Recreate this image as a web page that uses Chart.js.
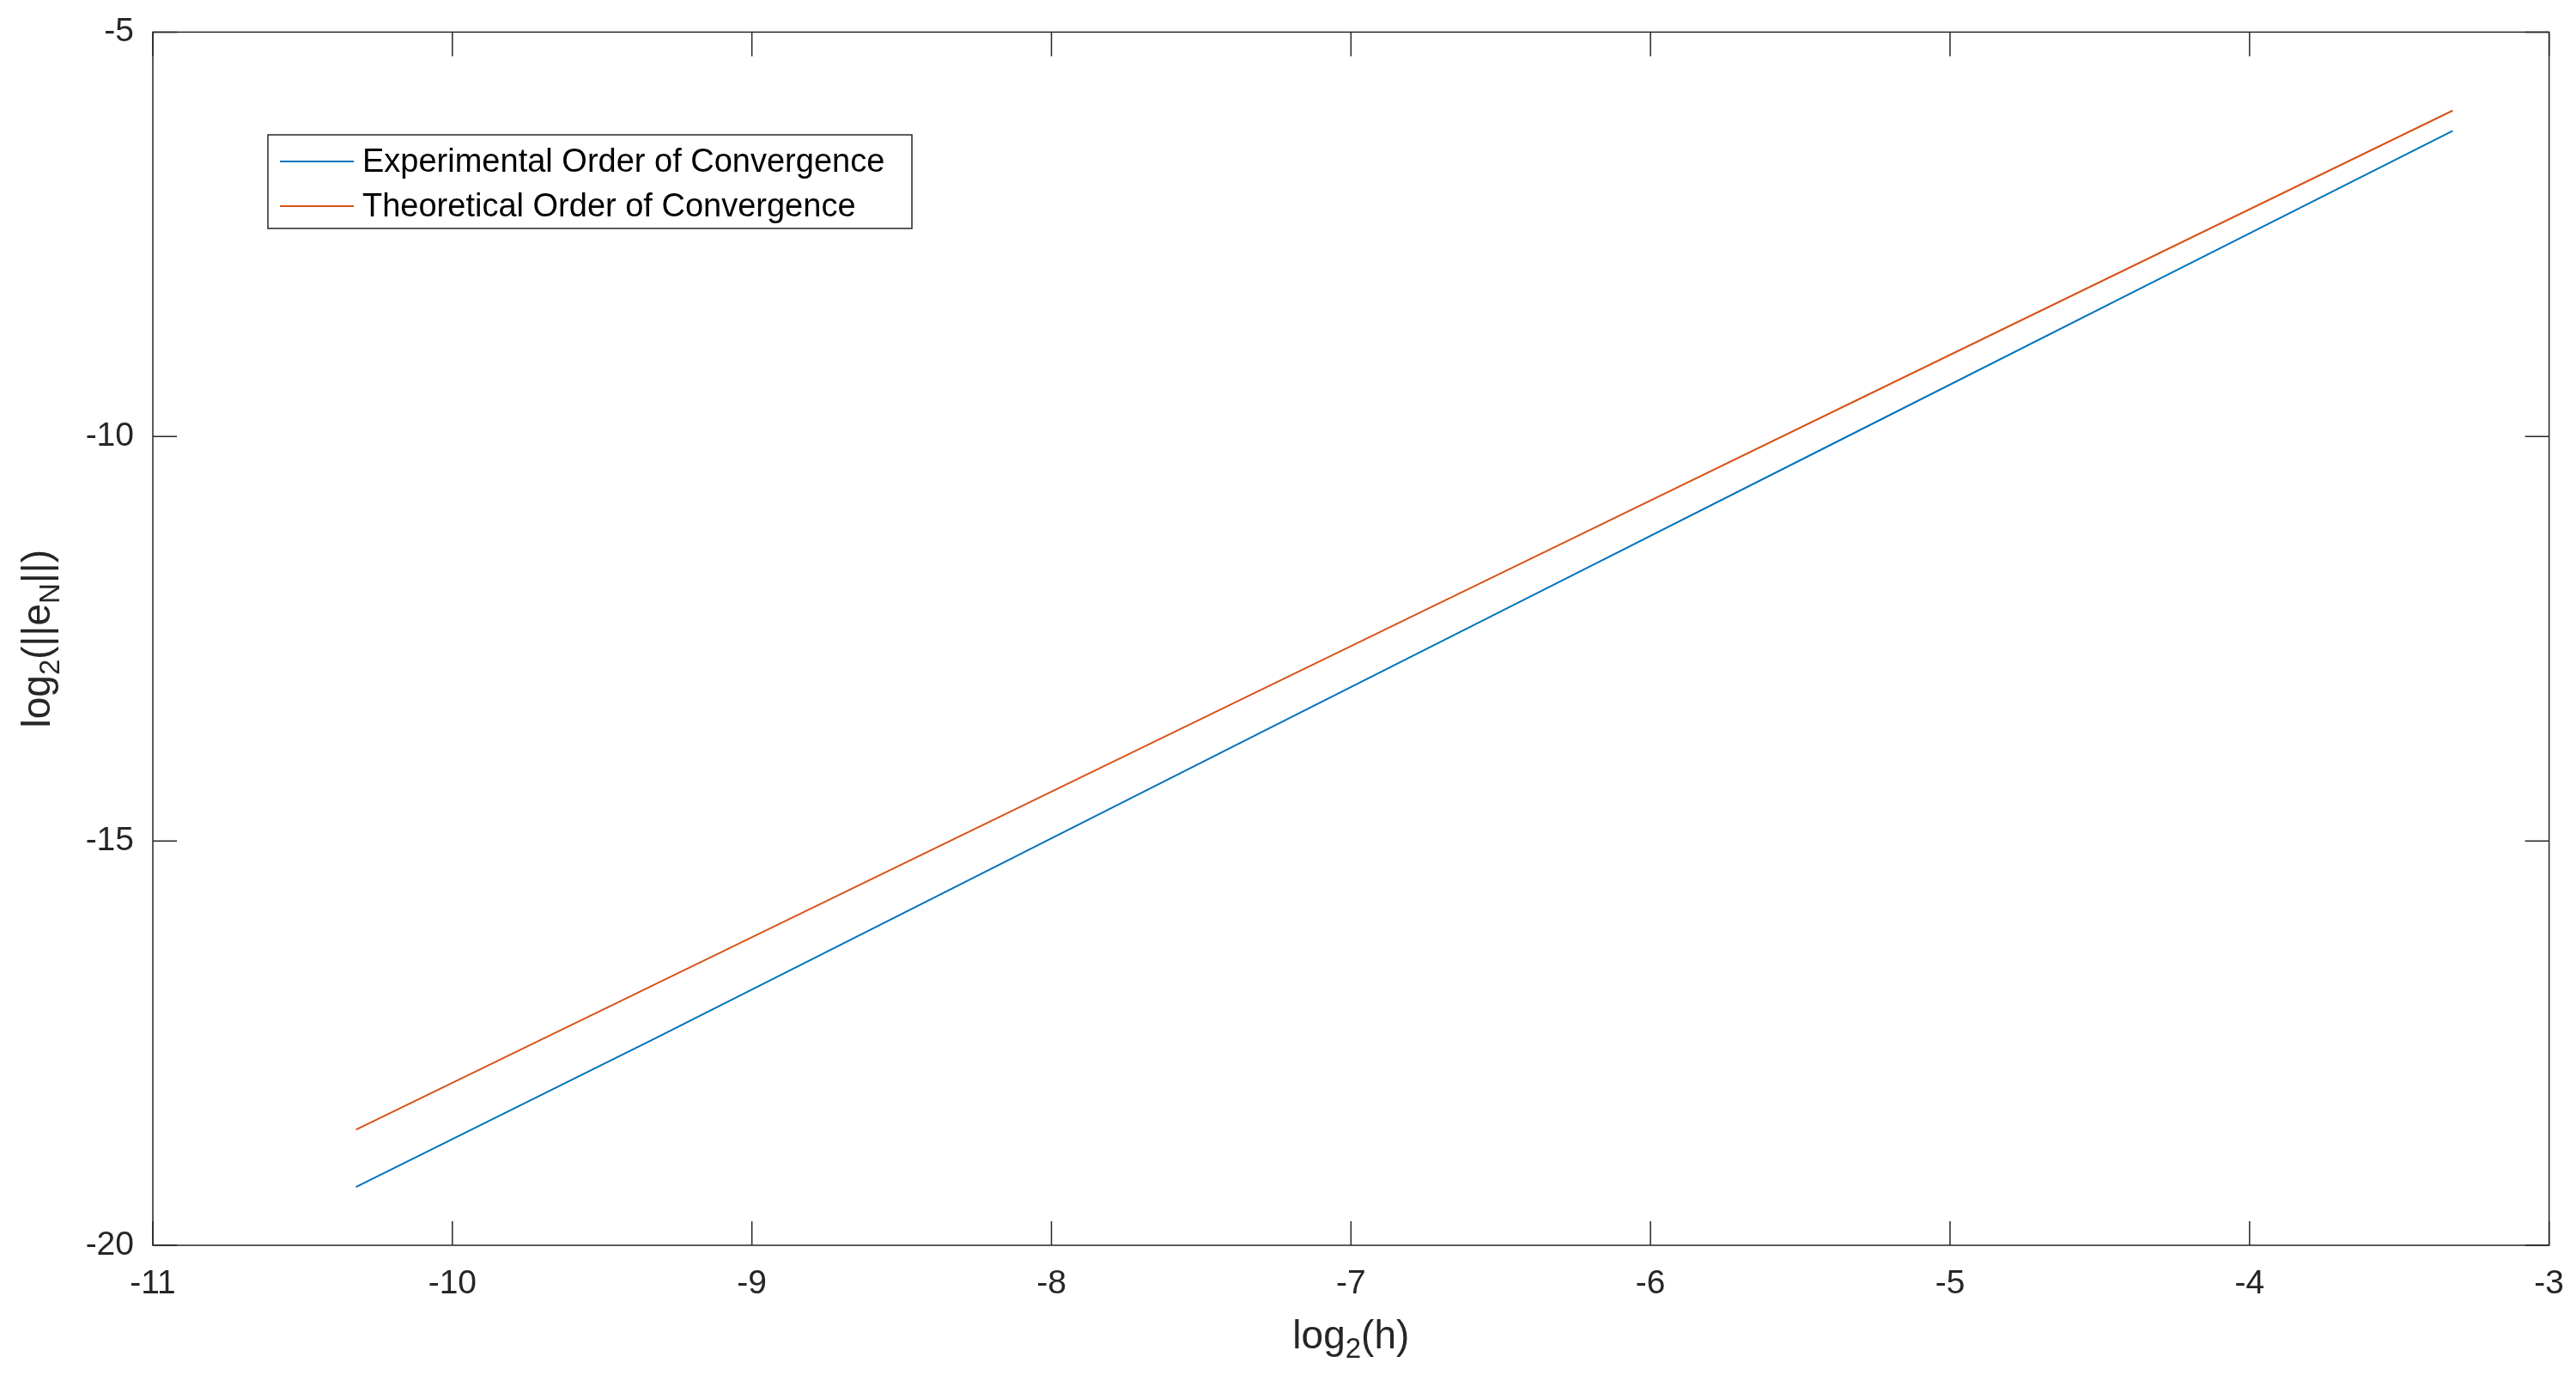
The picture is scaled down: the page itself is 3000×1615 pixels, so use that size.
<!DOCTYPE html>
<html><head><meta charset="utf-8">
<script src="https://cdn.jsdelivr.net/npm/chart.js@4"></script>
<style>html,body{margin:0;padding:0;background:#fff}#w{width:3000px;height:1615px}</style>
</head><body><div id="w"><canvas id="c"></canvas></div>
<script>
const logH = [-3.3219, -4.3219, -5.3219, -6.3219, -7.3219, -8.3219, -9.3219, -10.3219];
const experimental = [-6.22, -8.09, -9.96, -11.83, -13.70, -15.57, -17.44, -19.28];
const theoretical = [-5.97, -7.77, -9.57, -11.37, -13.17, -14.97, -16.77, -18.57];
const xTicks = [-11, -10, -9, -8, -7, -6, -5, -4, -3];
const yTicks = [-20, -15, -10, -5];
const seriesLabels = ['Experimental Order of Convergence', 'Theoretical Order of Convergence'];
const FONT = '"Liberation Sans", Arial, sans-serif';
const mk = a => logH.map((x, i) => ({x, y: a[i]}));

const deco = {
  id: 'deco',
  afterDraw(ch) {
    const {ctx, chartArea: a, scales: {x, y}} = ch;
    ctx.save();
    ctx.strokeStyle = '#262626'; ctx.lineWidth = 1.5;
    ctx.strokeRect(a.left, a.top, a.right - a.left, a.bottom - a.top);
    const t = 28;
    ctx.beginPath();
    xTicks.forEach(v => { const p = x.getPixelForValue(v);
      ctx.moveTo(p, a.bottom); ctx.lineTo(p, a.bottom - t);
      ctx.moveTo(p, a.top); ctx.lineTo(p, a.top + t); });
    yTicks.forEach(v => { const p = y.getPixelForValue(v);
      ctx.moveTo(a.left, p); ctx.lineTo(a.left + t, p);
      ctx.moveTo(a.right, p); ctx.lineTo(a.right - t, p); });
    ctx.stroke();
    ctx.fillStyle = '#262626';
    const big = '46px ' + FONT, sm = '33px ' + FONT;
    ctx.textBaseline = 'alphabetic';
    let parts = [['log', big, 0], ['2', sm, 11], ['(h)', big, 0]];
    let w = 0; parts.forEach(p => { ctx.font = p[1]; w += ctx.measureText(p[0]).width; });
    let cx = (a.left + a.right) / 2 - w / 2, by = 1570;
    parts.forEach(p => { ctx.font = p[1]; ctx.fillText(p[0], cx, by + p[2]); cx += ctx.measureText(p[0]).width; });
    ctx.save();
    ctx.translate(58, (a.top + a.bottom) / 2); ctx.rotate(-Math.PI / 2);
    parts = [['log', big, 0], ['2', sm, 11], ['(||e', big, 0], ['N', sm, 11], ['||)', big, 0]];
    w = 0; parts.forEach(p => { ctx.font = p[1]; w += ctx.measureText(p[0]).width; });
    cx = -w / 2;
    parts.forEach(p => { ctx.font = p[1]; ctx.fillText(p[0], cx, p[2]); cx += ctx.measureText(p[0]).width; });
    ctx.restore();
    const lx = 312, ly = 157, lw = 750, lh = 109;
    ctx.fillStyle = '#fff'; ctx.fillRect(lx, ly, lw, lh);
    ctx.strokeStyle = '#262626'; ctx.lineWidth = 1.5; ctx.strokeRect(lx, ly, lw, lh);
    ctx.font = '38px ' + FONT; ctx.textBaseline = 'middle';
    ch.data.datasets.forEach((d, i) => {
      const yy = ly + 31 + i * 52;
      ctx.strokeStyle = d.borderColor; ctx.lineWidth = 2;
      ctx.beginPath(); ctx.moveTo(lx + 14, yy); ctx.lineTo(lx + 100, yy); ctx.stroke();
      ctx.fillStyle = '#000'; ctx.fillText(d.label, lx + 110, yy + 2);
    });
    ctx.restore();
  }
};

new Chart(document.getElementById('c'), {
  type: 'line',
  data: { datasets: [
    {label: seriesLabels[0], data: mk(experimental), borderColor: '#0072BD', borderWidth: 2, pointRadius: 0, fill: false},
    {label: seriesLabels[1], data: mk(theoretical), borderColor: '#D95319', borderWidth: 2, pointRadius: 0, fill: false}
  ]},
  options: {
    responsive: true, maintainAspectRatio: false, animation: false,
    layout: {padding: {top: 34, right: 31, left: 0, bottom: 0}},
    plugins: {legend: {display: false}, tooltip: {enabled: false}},
    scales: {
      x: {type: 'linear', min: -11, max: -3,
        afterBuildTicks: s => { s.ticks = xTicks.map(v => ({value: v})); },
        afterFit: s => { s.height = 165; },
        grid: {display: false}, border: {display: false},
        ticks: {color: '#262626', font: {size: 39, family: FONT}, padding: 14}},
      y: {type: 'linear', min: -20, max: -5,
        afterBuildTicks: s => { s.ticks = yTicks.map(v => ({value: v})); },
        afterFit: s => { s.width = 178; },
        grid: {display: false}, border: {display: false},
        ticks: {color: '#262626', font: {size: 39, family: FONT}, padding: 14}}
    }
  },
  plugins: [deco]
});
</script></body></html>
